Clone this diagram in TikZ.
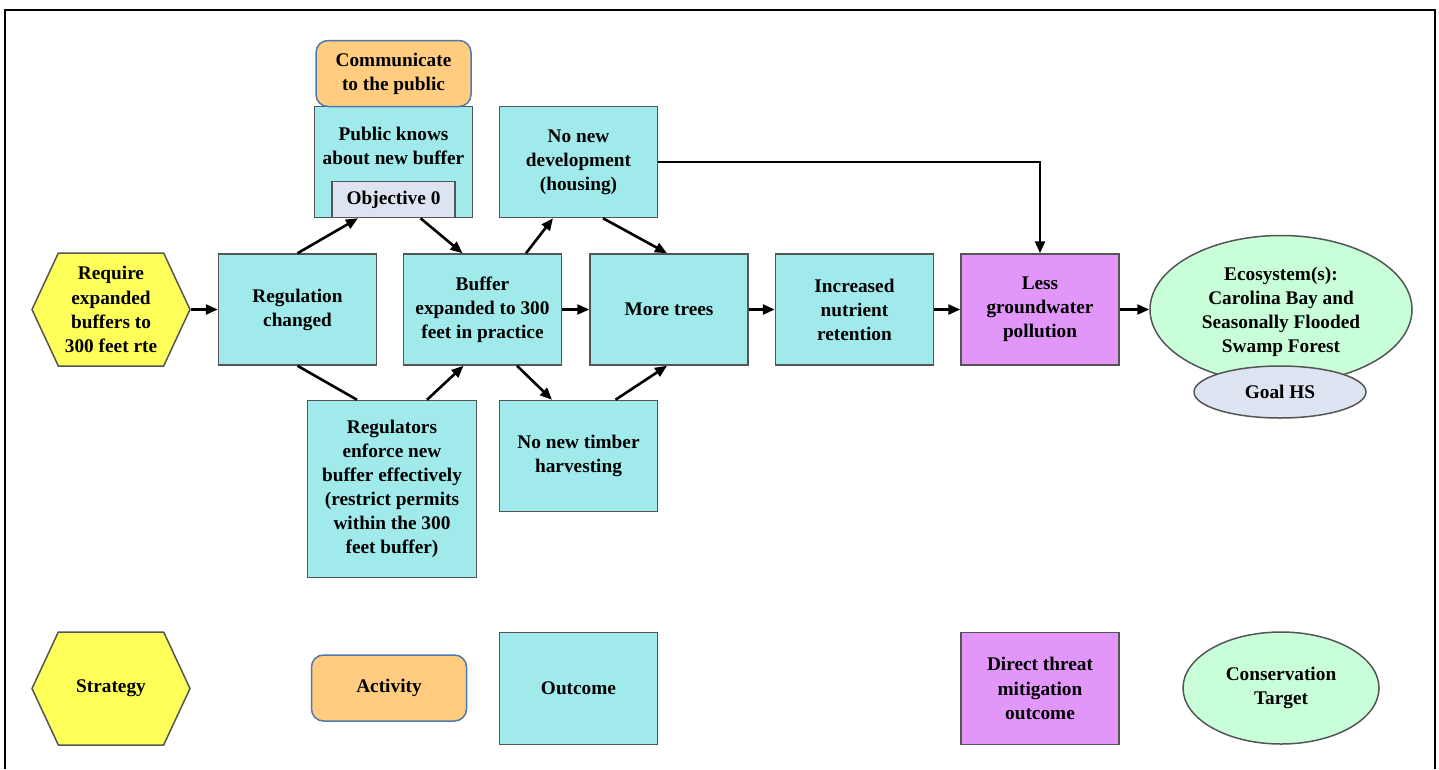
\documentclass[tikz,border=0pt]{standalone}
\usepackage{fontspec}
\setmainfont{Liberation Serif}
\usetikzlibrary{positioning,shapes.geometric,shapes.symbols,arrows.meta}

\definecolor{outcfill}{RGB}{160,234,236}
\definecolor{actfill}{RGB}{255,204,128}
\definecolor{stratfill}{RGB}{255,255,90}
\definecolor{threatfill}{RGB}{226,150,250}
\definecolor{targetfill}{RGB}{200,255,216}
\definecolor{objfill}{RGB}{220,228,242}
\definecolor{boxgray}{RGB}{85,85,85}
\definecolor{actblue}{RGB}{80,120,170}

\tikzset{
  base/.style={draw=boxgray,line width=1.5pt,align=center,inner sep=2pt,
    font=\bfseries\fontsize{19.3}{24.1}\selectfont},
  strathex/.style={base,shape=signal,signal to=west and east,
    signal pointer angle=130,fill=stratfill,
    minimum width=158pt,minimum height=113pt},
  outcbox/.style={base,rectangle,fill=outcfill,
    minimum width=158pt,minimum height=111pt},
  actbox/.style={base,rectangle,rounded corners=12pt,draw=actblue,
    fill=actfill,minimum width=155pt,minimum height=66pt},
  threatbox/.style={outcbox,fill=threatfill},
  targetell/.style={base,ellipse,inner sep=0pt,fill=targetfill},
  objbox/.style={base,rectangle,fill=objfill,
    minimum width=123pt,minimum height=36pt},
  link/.style={line width=2.6pt,-{Triangle[length=12pt,width=10pt]}}
}

\begin{document}
\begin{tikzpicture}[x=1pt,y=-1pt]
  \useasboundingbox (0,0) rectangle (1439,769);
  \draw[line width=1.8pt] (5,769) -- (5,10) -- (1435,10) -- (1435,769);

  % Main chain, left to right (centres on grid).
  \node[strathex] (req) at (111,309.5) {Require\\expanded\\buffers to\\300 feet rte};
  \node[outcbox,on grid,right=186.5pt of req] (reg) {Regulation\\changed};
  \node[outcbox,on grid,right=185pt of reg] (buf) {Buffer\\expanded to 300\\feet in practice};
  \node[outcbox,on grid,right=186.5pt of buf] (trees) {More trees};
  \node[outcbox,on grid,right=185.5pt of trees] (nut) {Increased\\nutrient\\retention};
  \node[threatbox,on grid,right=185.5pt of nut] (less) {Less\\groundwater\\pollution};
  \node[targetell,minimum width=262pt,minimum height=148pt,on grid,right=241pt of less] (eco)
    {\\[-6pt]Ecosystem(s):\\Carolina Bay and\\Seasonally Flooded\\Swamp Forest};
  \node[base,ellipse,fill=objfill,minimum width=172pt,minimum height=52pt] (goal)
    at (1280,392) {Goal HS};

  % Upper and lower branches.
  \node[outcbox] (pub) at (393.5,162) {Public knows\\about new buffer\\[8pt]};
  \node[objbox,anchor=south] (obj0) at (pub.south) {Objective 0};
  \node[actbox,anchor=south,yshift=-1.5pt] (comm) at (pub.north) {Communicate\\to the public};
  \node[outcbox] (dev) at (578.5,162) {No new\\development\\(housing)};
  \node[outcbox,minimum width=169pt,minimum height=177pt] (rgl) at (392,489)
    {Regulators\\enforce new\\buffer effectively\\(restrict permits\\within the 300\\feet buffer)};
  \node[outcbox] (tim) at (578.5,456) {No new timber\\harvesting};

  % Connectors.
  \draw[link] (req.east) -- (reg.west);
  \draw[link] (reg.north) -- ([xshift=-35.5pt]pub.south);
  \draw[link] ([xshift=27pt]pub.south) -- ([xshift=-20pt]buf.north);
  \draw[line width=2.6pt] (reg.south) -- ([xshift=-35pt]rgl.north);
  \draw[link] ([xshift=35pt]rgl.north) -- ([xshift=-19pt]buf.south);
  \draw[link] (buf.east) -- (trees.west);
  \draw[link] ([xshift=43.5pt]buf.north) -- ([xshift=-25.5pt]dev.south);
  \draw[link] ([xshift=24.5pt]dev.south) -- ([xshift=-2pt]trees.north);
  \draw[link] ([xshift=34.5pt]buf.south) -- ([xshift=-26.5pt]tim.north);
  \draw[link] ([xshift=37pt]tim.north) -- ([xshift=-2pt]trees.south);
  \draw[link] (trees.east) -- (nut.west);
  \draw[link] (nut.east) -- (less.west);
  \draw[link] (less.east) -- (eco.west);
  \draw[link] (dev.east) -| (less.north);

  % Legend.
  \node[strathex] (lstrat) at (111,688.5) {Strategy};
  \node[actbox] (lact) at (389,688) {Activity};
  \node[outcbox,minimum height=112pt] (lout) at (578.5,688.5) {Outcome};
  \node[threatbox,minimum height=112pt] (lthr) at (1040,688.5) {Direct threat\\mitigation\\outcome};
  \node[targetell,minimum width=196pt,minimum height=112pt] (lcons) at (1281,688)
    {Conservation\\Target};
\end{tikzpicture}
\end{document}
